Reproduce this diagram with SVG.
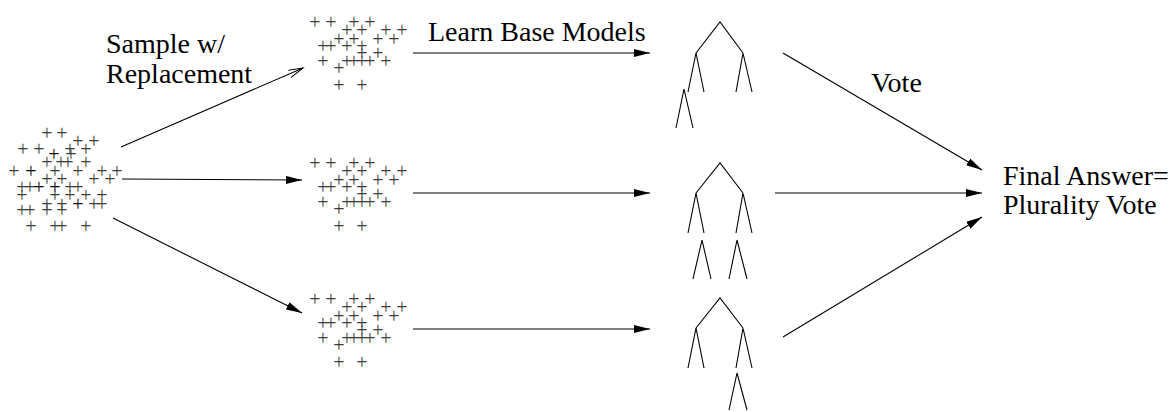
<svg xmlns="http://www.w3.org/2000/svg" width="1176" height="412" viewBox="0 0 1176 412">
<style>
.lbl{font-size:28px;fill:#000}
.p{font-size:20px;fill:#3a3a3a}
.b{fill:#000}
.ln{stroke:#000;stroke-width:1.1;fill:none}
.tr{stroke:#000;stroke-width:1.1;fill:none}
.gs{opacity:0.99}
</style>
<defs>
<marker id="fa" markerUnits="userSpaceOnUse" markerWidth="18" markerHeight="10" refX="16" refY="4" orient="auto">
<path d="M0,0 L16,4 L0,8 z" fill="#000"/>
</marker>
<marker id="oa" markerUnits="userSpaceOnUse" markerWidth="18" markerHeight="10" refX="15" refY="4" orient="auto">
<path d="M0,0 L15,4 L0,8" fill="none" stroke="#000" stroke-width="1"/>
</marker>
<g id="cl" font-family="Liberation Serif, Times New Roman, serif" text-anchor="middle">
<text class="p"><tspan x="315 331 354 370" y="29">++++</tspan><tspan x="347 362 386 402" y="37">++++</tspan><tspan x="339 354 378 394" y="46">++++</tspan><tspan x="323 331 347 362" y="53">++++</tspan><tspan x="362 378" y="60">++</tspan><tspan x="323 347 354 362 370 386" y="68">++++++</tspan><tspan x="339" y="75">+</tspan><tspan x="339 362" y="92">++</tspan></text>
</g>
</defs>

<g id="data" class="gs" font-family="Liberation Serif, Times New Roman, serif" text-anchor="middle">
<text class="p"><tspan x="47 62" y="140">++</tspan><tspan x="78 94" y="148">++</tspan><tspan x="23 39 70 86" y="156">++++</tspan><tspan x="71" y="161">+</tspan><tspan class="b" x="54" y="161">+</tspan><tspan x="47 61 68 86" y="169">++++</tspan><tspan x="14 55 78 102 117" y="178">+++++</tspan><tspan class="b" x="31" y="178">+</tspan><tspan x="47 62 94 110" y="186">++++</tspan><tspan x="22 30 70 78" y="194">++++</tspan><tspan class="b" x="39 55" y="194">++</tspan><tspan x="22 55 70 86 102" y="202">+++++</tspan><tspan x="47 62 94 102" y="211">++++</tspan><tspan class="b" x="78" y="211">+</tspan><tspan x="22 30 47 62" y="217">++++</tspan><tspan x="31 55 62 86" y="233">++++</tspan></text>
</g>

<g id="sample1" class="gs"><use href="#cl"/></g>
<g id="sample2" class="gs"><use href="#cl" transform="translate(0,141)"/></g>
<g id="sample3" class="gs"><use href="#cl" transform="translate(0,277)"/></g>

<g id="tree1" class="tr">
<path d="M696,53 L720,22 L743,53"/>
<path d="M688,92 L696,53 L704,92"/>
<path d="M736,92 L743,53 L752,92"/>
<path d="M676,128 L684,89 L693,128"/>
</g>
<g id="tree2" class="tr">
<path d="M696,193 L720,163 L743,193"/>
<path d="M688,233 L696,193 L704,233"/>
<path d="M736,233 L743,193 L752,233"/>
<path d="M693,279 L702,240 L711,279"/>
<path d="M729,279 L737,240 L747,279"/>
</g>
<g id="tree3" class="tr">
<path d="M696,328 L720,298 L743,328"/>
<path d="M688,368 L696,328 L704,368"/>
<path d="M736,368 L743,328 L752,368"/>
<path d="M729,410 L737,373 L747,410"/>
</g>

<g id="connectors" class="ln">
<line x1="121" y1="147" x2="303" y2="68" marker-end="url(#oa)"/>
<line x1="122" y1="179" x2="302" y2="180" marker-end="url(#fa)"/>
<line x1="113" y1="218" x2="302" y2="313" marker-end="url(#fa)"/>
<line x1="413" y1="53" x2="650" y2="53" marker-end="url(#fa)"/>
<line x1="413" y1="193" x2="650" y2="193" marker-end="url(#fa)"/>
<line x1="413" y1="329" x2="650" y2="329" marker-end="url(#fa)"/>
<line x1="783" y1="53" x2="982" y2="170" marker-end="url(#fa)"/>
<line x1="775" y1="193" x2="982" y2="193" marker-end="url(#fa)"/>
<line x1="783" y1="337" x2="982" y2="217" marker-end="url(#fa)"/>
</g>

<g id="labels" font-family="Liberation Serif, Times New Roman, serif">
<text class="lbl" x="106" y="53">Sample w/</text>
<text class="lbl" x="106" y="83">Replacement</text>
<text class="lbl" x="428" y="41">Learn Base Models</text>
<text class="lbl" x="871" y="92">Vote</text>
<text class="lbl" x="1003" y="185">Final Answer=</text>
<text class="lbl" x="1003" y="214">Plurality Vote</text>
</g>
</svg>
